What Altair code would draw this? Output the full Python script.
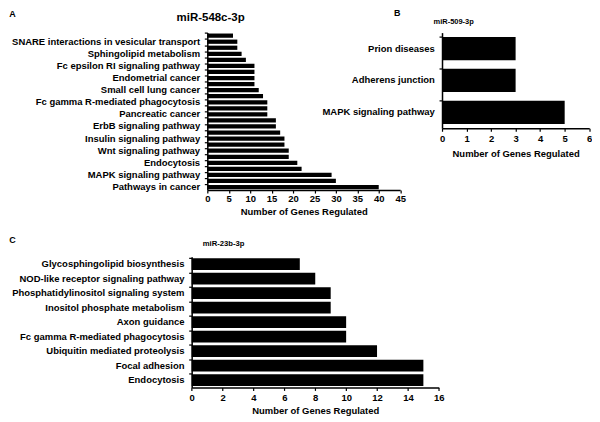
import json
import altair as alt
import pandas as pd

FONT = "Liberation Sans"
BLACK = "#000000"
x_title = "Number of Genes Regulated"

# ---- Panel A: miR-548c-3p (26 bars, every other bar labelled)
a_letter = "A"
a_title = "miR-548c-3p"
a_values = [6, 7, 7, 8, 9, 11, 11, 11, 11, 12, 13, 14, 14, 14, 16, 16, 17,
            18, 18, 19, 19, 21, 22, 29, 30, 40]
a_labels = ["SNARE interactions in vesicular transport", "Sphingolipid metabolism",
            "Fc epsilon RI signaling pathway", "Endometrial cancer",
            "Small cell lung cancer", "Fc gamma R-mediated phagocytosis",
            "Pancreatic cancer", "ErbB signaling pathway", "Insulin signaling pathway",
            "Wnt signaling pathway", "Endocytosis", "MAPK signaling pathway",
            "Pathways in cancer"]
a_ticks = [0, 5, 10, 15, 20, 25, 30, 35, 40, 45]

# ---- Panel B: miR-509-3p
b_letter = "B"
b_title = "miR-509-3p"
b_labels = ["Prion diseases", "Adherens junction", "MAPK signaling pathway"]
b_values = [3, 3, 5]
b_ticks = [0, 1, 2, 3, 4, 5, 6]

# ---- Panel C: miR-23b-3p
c_letter = "C"
c_title = "miR-23b-3p"
c_labels = ["Glycosphingolipid biosynthesis", "NOD-like receptor signaling pathway",
            "Phosphatidylinositol signaling system", "Inositol phosphate metabolism",
            "Axon guidance", "Fc gamma R-mediated phagocytosis",
            "Ubiquitin mediated proteolysis", "Focal adhesion", "Endocytosis"]
c_values = [7, 8, 9, 9, 10, 10, 12, 15, 15]
c_ticks = [0, 2, 4, 6, 8, 10, 12, 14, 16]


def panel(df, ycol, domain_vals, label_expr, xmax, ticks, width, height, pad_inner,
          letter, lx, ly, title, title_size, tx, ty, label_pad=2, title_pad=4,
          x_range=None, y_offset=0, title_x=None):
    yscale = alt.Scale(type="band", domain=domain_vals, paddingInner=pad_inner,
                       paddingOuter=pad_inner / 2)
    xs_kw = dict(domain=[0, xmax], nice=False, zero=True)
    if x_range is not None:
        xs_kw["range"] = x_range
    xa_kw = dict(values=ticks, title=x_title, grid=False, tickSize=3,
                 labelPadding=label_pad, titlePadding=title_pad, labelFlush=False,
                 labelOverlap=False)
    if title_x is not None:
        xa_kw["titleX"] = title_x
    bars = alt.Chart(df).mark_bar(color=BLACK).encode(
        x=alt.X("value:Q", scale=alt.Scale(**xs_kw), axis=alt.Axis(**xa_kw)),
        y=alt.Y(f"{ycol}:O", scale=yscale,
                axis=alt.Axis(labels=False, title=None, ticks=True, tickSize=3,
                              bandPosition=0, domain=True, orient="left", grid=False,
                              offset=y_offset)),
    )
    lab_kw = dict(title=None, ticks=False, tickSize=0, domain=False, labelPadding=7.7,
                  orient="left", grid=False, labelLimit=400, labelOverlap=False,
                  offset=y_offset)
    if label_expr:
        lab_kw["labelExpr"] = label_expr
    labels = alt.Chart(df).mark_bar(opacity=0).encode(
        y=alt.Y(f"{ycol}:O", scale=yscale, axis=alt.Axis(**lab_kw))
    )
    let = alt.Chart(pd.DataFrame({"t": [letter]})).mark_text(
        align="left", baseline="top", font=FONT, fontSize=9, fontWeight="bold",
        color=BLACK).encode(text="t:N", x=alt.value(lx), y=alt.value(ly))
    ttl = alt.Chart(pd.DataFrame({"t": [title]})).mark_text(
        align="center", baseline="alphabetic", font=FONT, fontSize=title_size,
        fontWeight="bold", color=BLACK).encode(text="t:N", x=alt.value(tx), y=alt.value(ty))
    return alt.layer(bars, labels, let, ttl).resolve_scale(y="independent").properties(
        width=width, height=height)


# Panel A data
a_rows = list(range(len(a_values)))
a_names = [""] * len(a_values)
for k, lab in enumerate(a_labels):
    a_names[2 * k + 1] = lab
a_df = pd.DataFrame({"row": a_rows, "value": a_values})
a_expr = "[" + ",".join(json.dumps(s) for s in a_names) + "][datum.value]"

A = panel(a_df, "row", a_rows, a_expr, 45, a_ticks, 193.5, 158, 0.3,
          a_letter, -198.7, -23, a_title, 11.5, 3.3, -12, label_pad=0.5)

b_df = pd.DataFrame({"name": b_labels, "value": b_values})
B = panel(b_df, "name", b_labels, None, 6, b_ticks, 147.7, 96, 0.27,
          b_letter, -48.3, -23.5, b_title, 7.5, 11.7, -9, label_pad=2, title_pad=6)

# Panel C: its view shares A's left origin; the scale range and axis offset
# move the plotted region 15.7px further left, as in the original figure.
c_df = pd.DataFrame({"name": c_labels, "value": c_values})
C = panel(c_df, "name", c_labels, None, 16, c_ticks, 232.3, 131, 0.2,
          c_letter, -198.7, -20.5, c_title, 7.7, 16.3, -11.2, label_pad=2,
          x_range=[-15.7, 232.3], y_offset=15.7, title_x=108.3)

top = alt.hconcat(A, B, spacing=-84.5)
chart = alt.vconcat(top, C, spacing=19).properties(
    padding={"left": 1, "top": 0, "right": 0, "bottom": 0}
).configure_view(stroke=None).configure_axis(
    labelFont=FONT, labelFontSize=9.5, labelFontWeight="bold", labelColor=BLACK,
    titleFont=FONT, titleFontSize=9.5, titleFontWeight="bold", titleColor=BLACK,
    domainColor=BLACK, tickColor=BLACK, domainWidth=1.5, tickWidth=1.2,
)

chart.save("out.html", embed_options={"renderer": "svg", "actions": False})
